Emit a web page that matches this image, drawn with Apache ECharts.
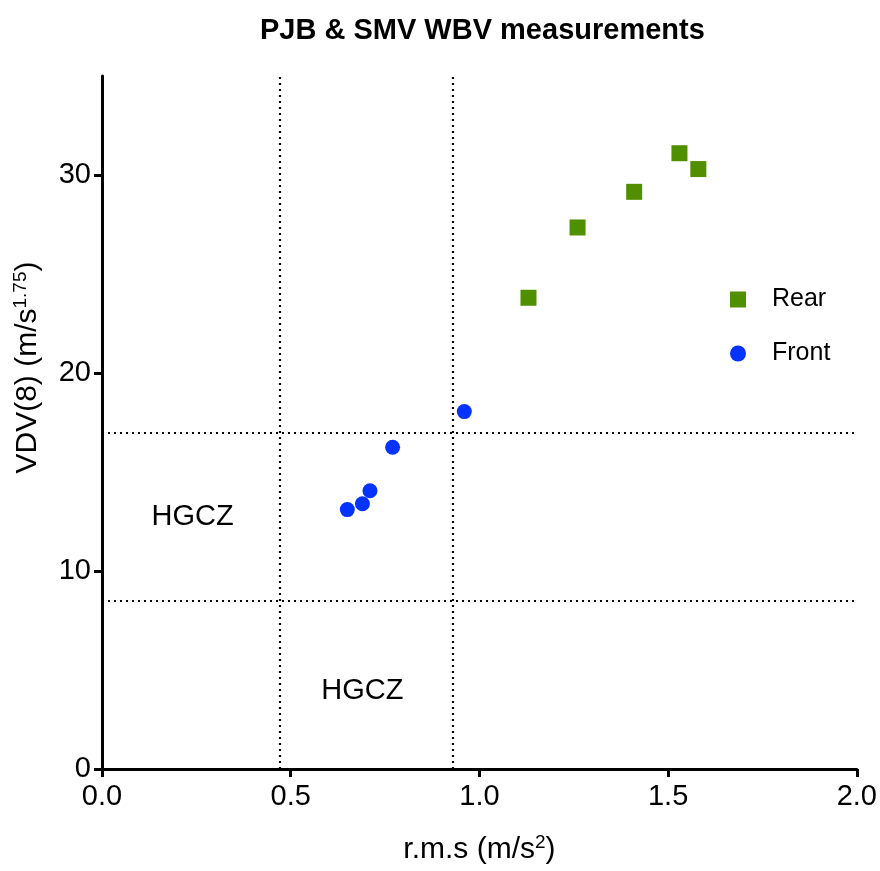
<!DOCTYPE html>
<html>
<head>
<meta charset="utf-8">
<script src="https://cdn.jsdelivr.net/npm/echarts@6/dist/echarts.min.js"></script>
<style>
    html, body { margin: 0; padding: 0; background: #fff; }
    #echarts-main { width: 880px; height: 871px; }
</style>
</head>
<body>
<div id="echarts-main"></div>
<script>
    // 数据
    const rearX = [1.13, 1.26, 1.41, 1.53, 1.58]
    const rearY = [23.8, 27.35, 29.15, 31.1, 30.3]
    const frontX = [0.65, 0.69, 0.71, 0.77, 0.96]
    const frontY = [13.1, 13.4, 14.05, 16.25, 18.05]
    const vLines = [0.47, 0.93]      // rms 界线
    const hLines = [8.5, 17]         // VDV 界线
    const zoneX = [0.24, 0.69]
    const zoneY = [12.75, 3.95]
    const zoneText = ['HGCZ', 'HGCZ']
    const xTicks = [0, 0.5, 1.0, 1.5, 2.0]
    const yTicks = [0, 10, 20, 30]

    const font = 'Liberation Sans, Arial, sans-serif'

    const pair = (xs, ys) => xs.map((x, i) => [x, ys[i]])

    let myChart = echarts.init(document.getElementById('echarts-main'))

    const option = {
        animation: false,
        textStyle: { fontFamily: font, color: '#000' },
        title: {
            text: 'PJB & SMV WBV measurements',
            left: 255,
            top: 11,
            textStyle: { fontSize: 29, fontWeight: 'bold', color: '#000', fontFamily: font }
        },
        grid: { left: 102, right: 23, top: 76, bottom: 102 },
        legend: {
            orient: 'vertical',
            left: 725,
            top: 282,
            itemWidth: 16,
            itemHeight: 16,
            itemGap: 29,
            textStyle: { fontSize: 25, color: '#000', fontFamily: font, padding: [0, 0, 0, 21] },
            data: [{ name: 'Rear', icon: 'rect' }, { name: 'Front', icon: 'circle' }]
        },
        xAxis: {
            type: 'value',
            min: 0,
            max: 2,
            interval: 0.5,
            name: '{n|r.m.s (m/s}{s|2}{n|)}',
            nameLocation: 'middle',
            nameGap: 64,
            nameTextStyle: {
                rich: {
                    n: { fontSize: 30, color: '#000', fontFamily: font, lineHeight: 34 },
                    s: { fontSize: 19, color: '#000', fontFamily: font, verticalAlign: 'top', lineHeight: 30 }
                }
            },
            axisLine: { lineStyle: { color: '#000', width: 3 } },
            axisTick: { length: 8, lineStyle: { color: '#000', width: 3 }, customValues: xTicks },
            axisLabel: {
                fontSize: 29, color: '#000', margin: 13, fontFamily: font,
                customValues: xTicks,
                formatter: v => v.toFixed(1)
            },
            splitLine: { show: false }
        },
        yAxis: {
            type: 'value',
            min: 0,
            max: 35,
            interval: 10,
            name: '{n|VDV(8) (m/s}{s|1.75}{n|)}',
            nameLocation: 'middle',
            nameGap: 57,
            nameTextStyle: {
                padding: [0, 0, 0, 110],
                rich: {
                    n: { fontSize: 30, color: '#000', fontFamily: font, lineHeight: 34 },
                    s: { fontSize: 19, color: '#000', fontFamily: font, verticalAlign: 'top', lineHeight: 30 }
                }
            },
            axisLine: { lineStyle: { color: '#000', width: 3 } },
            axisTick: { length: 8, lineStyle: { color: '#000', width: 3 }, customValues: yTicks },
            axisLabel: { fontSize: 29, color: '#000', margin: 11, fontFamily: font, customValues: yTicks },
            splitLine: { show: false }
        },
        series: [
            {
                name: 'Rear',
                type: 'scatter',
                symbol: 'rect',
                symbolSize: 16,
                itemStyle: { color: '#4F8F00', opacity: 1 },
                data: pair(rearX, rearY)
            },
            {
                name: 'Front',
                type: 'scatter',
                symbol: 'circle',
                symbolSize: 15,
                itemStyle: { color: '#0433FF', opacity: 1 },
                data: pair(frontX, frontY)
            },
            {
                name: 'zones',
                type: 'scatter',
                silent: true,
                symbolSize: 0,
                z: 1,
                itemStyle: { opacity: 1 },
                data: zoneX.map((x, i) => ({ value: [x, zoneY[i]], name: zoneText[i] })),
                label: {
                    show: true,
                    position: 'inside',
                    formatter: p => p.name,
                    fontSize: 29,
                    color: '#000',
                    opacity: 1,
                    fontFamily: font
                },
                markLine: {
                    silent: true,
                    symbol: 'none',
                    label: { show: false },
                    lineStyle: { color: '#000', width: 2.2, type: [2, 4], opacity: 1 },
                    data: vLines.map(v => ({ xAxis: v })).concat(hLines.map(v => ({ yAxis: v })))
                }
            }
        ]
    }

    option && myChart.setOption(option)
</script>
</body>
</html>
